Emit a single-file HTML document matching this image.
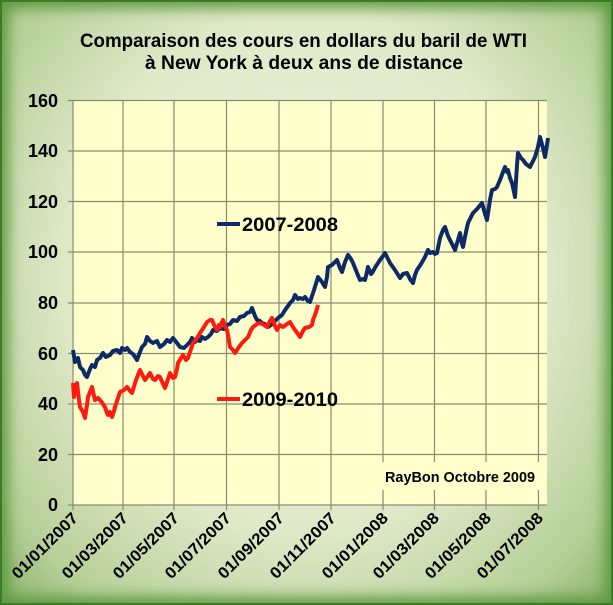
<!DOCTYPE html>
<html><head><meta charset="utf-8"><style>
html,body{margin:0;padding:0;background:#fff}
#f{position:absolute;left:0;top:0;width:613px;height:605px;box-sizing:border-box;border:2px solid #3d7a2a;
background:radial-gradient(ellipse at 50% 45%,#f2f6e4 0%,#dfe9c8 55%,#b6cf98 85%,#8ab36a 100%);
box-shadow:inset 0 0 14px 6px #5d9a3e}
svg{position:absolute;left:0;top:0}
text{font-family:"Liberation Sans",Arial,sans-serif;font-weight:bold;fill:#000}
</style></head><body><div id="f"></div>
<svg width="613" height="605" viewBox="0 0 613 605">
<text x="80" y="47" font-size="19" textLength="447" lengthAdjust="spacingAndGlyphs">Comparaison des cours en dollars du baril de WTI</text>
<text x="145" y="69" font-size="19" textLength="318" lengthAdjust="spacingAndGlyphs">à New York à deux ans de distance</text>
<rect x="73" y="100" width="474" height="405" fill="#ffffcc"/>
<g stroke="#8a8a72" stroke-width="1.2">
<line x1="68" y1="100.5" x2="547" y2="100.5"/><line x1="68" y1="151" x2="547" y2="151"/><line x1="68" y1="201.5" x2="547" y2="201.5"/><line x1="68" y1="252" x2="547" y2="252"/><line x1="68" y1="303" x2="547" y2="303"/><line x1="68" y1="353.5" x2="547" y2="353.5"/><line x1="68" y1="404" x2="547" y2="404"/><line x1="68" y1="454.5" x2="547" y2="454.5"/><line x1="68" y1="505" x2="547" y2="505"/>
<line x1="73" y1="100" x2="73" y2="510"/><line x1="123" y1="100" x2="123" y2="510"/><line x1="174" y1="100" x2="174" y2="510"/><line x1="226.5" y1="100" x2="226.5" y2="510"/><line x1="279" y1="100" x2="279" y2="510"/><line x1="331" y1="100" x2="331" y2="510"/><line x1="383" y1="100" x2="383" y2="510"/><line x1="434.5" y1="100" x2="434.5" y2="510"/><line x1="486" y1="100" x2="486" y2="510"/><line x1="538.5" y1="100" x2="538.5" y2="510"/>
</g>
<rect x="380" y="462" width="160" height="28" fill="#ffffcc"/>
<text x="385" y="482" font-size="15" textLength="150" lengthAdjust="spacingAndGlyphs">RayBon Octobre 2009</text>
<g font-size="18" text-anchor="end">
<text x="58" y="107">160</text><text x="58" y="157">140</text><text x="58" y="208">120</text><text x="58" y="258">100</text><text x="58" y="309">80</text><text x="58" y="360">60</text><text x="58" y="410">40</text><text x="58" y="461">20</text><text x="58" y="511">0</text>
</g>
<g font-size="16" text-anchor="end">
<text transform="translate(79,519) rotate(-45)" textLength="86" lengthAdjust="spacingAndGlyphs">01/01/2007</text>
<text transform="translate(129,519) rotate(-45)" textLength="86" lengthAdjust="spacingAndGlyphs">01/03/2007</text>
<text transform="translate(180,519) rotate(-45)" textLength="86" lengthAdjust="spacingAndGlyphs">01/05/2007</text>
<text transform="translate(232,519) rotate(-45)" textLength="86" lengthAdjust="spacingAndGlyphs">01/07/2007</text>
<text transform="translate(285,519) rotate(-45)" textLength="86" lengthAdjust="spacingAndGlyphs">01/09/2007</text>
<text transform="translate(337,519) rotate(-45)" textLength="86" lengthAdjust="spacingAndGlyphs">01/11/2007</text>
<text transform="translate(389,519) rotate(-45)" textLength="86" lengthAdjust="spacingAndGlyphs">01/01/2008</text>
<text transform="translate(440,519) rotate(-45)" textLength="86" lengthAdjust="spacingAndGlyphs">01/03/2008</text>
<text transform="translate(492,519) rotate(-45)" textLength="86" lengthAdjust="spacingAndGlyphs">01/05/2008</text>
<text transform="translate(544,519) rotate(-45)" textLength="86" lengthAdjust="spacingAndGlyphs">01/07/2008</text>
</g>
<polyline fill="none" stroke="#0d2a66" stroke-width="4" stroke-linejoin="round" points="73,350 75,362 78,358 80,367 83,370 85,375 87,377 90,369 92,365 95,367 97,360 100,358 103,353 106,357 110,355 113,351 117,350 120,353 122,348 125,350 127,348 130,352 133,354 137,360 140,352 142,347 145,344 147,337 150,341 153,343 157,341 160,347 164,344 167,340 170,342 173,338 177,343 180,347 184,348 187,345 190,342 192,338 195,342 197,340 200,341 202,337 205,339 208,337 211,334 213,330 217,331 220,328 224,329 227,325 230,324 233,320 237,321 240,317 244,316 247,313 250,312 252,308 255,316 257,320 260,321 262,323 265,324 268,327 271,325 273,323 276,320 278,318 282,315 285,310 288,306 290,303 293,300 295,295 298,299 300,298 303,299 305,297 308,301 310,302 314,290 318,277 322,282 325,287 327,277 328,267 332,265 337,260 340,268 342,272 345,262 348,255 351,259 353,263 357,273 360,280 363,279 365,280 367,272 368,267 371,274 372,273 376,266 380,260 383,256 385,253 388,259 390,263 395,270 400,278 403,274 407,273 410,279 413,283 415,275 417,270 421,264 425,257 428,250 430,253 433,252 435,254 437,253 440,238 443,230 445,227 448,236 450,240 453,246 455,250 458,240 460,233 462,244 463,247 466,232 468,223 470,219 473,213 477,209 482,203 485,214 487,220 490,200 492,190 495,189 497,187 500,180 503,172 505,167 507,172 508,170 510,178 512,183 514,192 515,197 517,165 518,153 521,158 523,160 526,164 530,167 533,161 535,157 538,147 540,137 543,148 545,157 547,145 548,138"/>
<polyline fill="none" stroke="#ff1a10" stroke-width="4" stroke-linejoin="round" points="73,383 74,397 77,383 79,400 80,407 83,412 85,418 87,405 88,397 90,392 92,387 94,396 95,400 98,398 100,400 103,404 105,407 107,413 108,415 110,412 112,417 114,411 115,407 118,398 120,392 124,390 127,387 130,391 132,393 136,380 140,370 143,376 145,380 148,376 150,373 153,379 155,380 158,376 160,377 163,384 165,388 168,379 170,373 173,378 175,377 177,369 178,363 181,358 183,355 186,360 188,358 191,349 193,343 197,338 200,333 204,327 207,322 210,320 212,320 215,327 217,330 219,325 220,327 222,322 223,320 225,326 227,330 229,341 230,347 233,350 235,353 239,347 242,343 245,340 248,337 251,330 253,327 257,324 260,323 264,325 267,327 270,321 272,318 275,326 277,330 280,325 283,327 287,324 290,322 293,327 295,330 298,334 300,337 303,331 305,328 309,327 312,325 313,320 315,315 317,309 318,305"/>
<line x1="217" y1="224" x2="240" y2="224" stroke="#0d2a66" stroke-width="4"/>
<text x="242" y="231" font-size="19" textLength="96" lengthAdjust="spacingAndGlyphs">2007-2008</text>
<line x1="217" y1="399" x2="240" y2="399" stroke="#ff1a10" stroke-width="4"/>
<text x="242" y="406" font-size="19" textLength="96" lengthAdjust="spacingAndGlyphs">2009-2010</text>
</svg></body></html>
